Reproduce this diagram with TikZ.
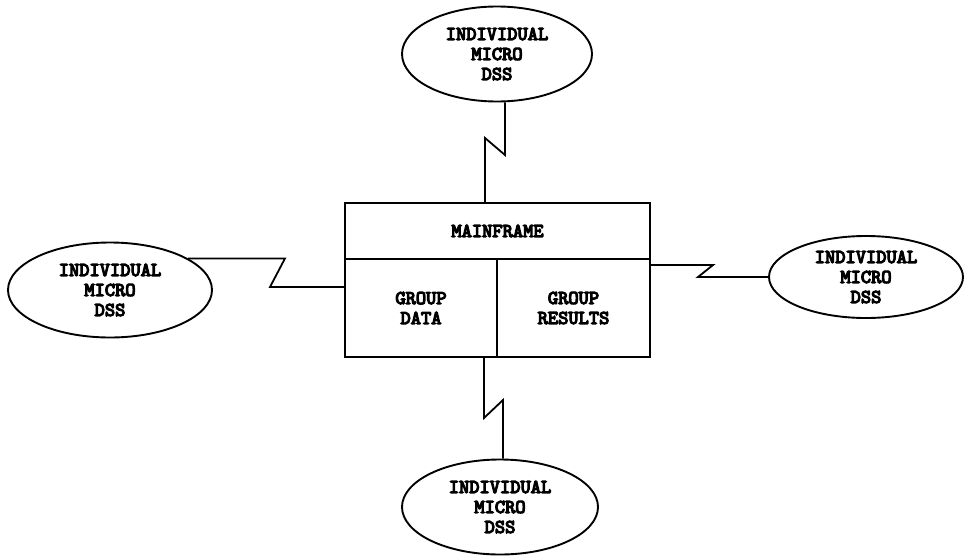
\documentclass[tikz,border=0pt]{standalone}
\usepackage{fontspec}
\newfontfamily\dfont[Extension=.otf, FakeBold=6]{lmmono10-regular}
\usetikzlibrary{shapes.geometric}
\begin{document}
\begin{tikzpicture}[x=1pt,y=1pt,
  txt/.style={font=\dfont\fontsize{19.5}{20}\selectfont, align=center, text=black},
  micro/.style={txt, ellipse, draw, line width=1.9pt, inner sep=0pt},
  part/.style={txt, rectangle, draw, line width=1.8pt, inner sep=0pt},
  conn/.style={line width=1.8pt, line join=miter}]
\useasboundingbox (0,0) rectangle (964,-557);
% mainframe box
\node[part, minimum width=305pt, minimum height=56pt] (mf) at (497.5,-231) {MAINFRAME};
\node[part, minimum width=152pt, minimum height=98pt] (gd) at (421,-308) {GROUP\\DATA};
\node[part, minimum width=153pt, minimum height=98pt] (gr) at (573.5,-308) {GROUP\\RESULTS};
% micro DSS ellipses
\node[micro, minimum width=190pt, minimum height=95pt] (T) at (497,-54) {INDIVIDUAL\\MICRO\\DSS};
\node[micro, minimum width=204pt, minimum height=95pt] (L) at (110,-290) {INDIVIDUAL\\MICRO\\DSS};
\node[micro, minimum width=194pt, minimum height=82pt] (R) at (866,-277) {INDIVIDUAL\\MICRO\\DSS};
\node[micro, minimum width=196pt, minimum height=95pt] (B) at (500,-507) {INDIVIDUAL\\MICRO\\DSS};
% zigzag bend points
\coordinate (t1) at (505,-155); \coordinate (t2) at (485,-138);
\coordinate (l1) at (285,-272); \coordinate (l2) at (270,-287);
\coordinate (r1) at (713,-265); \coordinate (r2) at (698,-277);
\coordinate (b1) at (484,-418); \coordinate (b2) at (503,-400);
% connectors
\draw[conn] (t1 |- T.south) -- (t1) -- (t2) -- (t2 |- mf.north);
\draw[conn] (L.22) -- (l1 |- L.22) -- (l2) -- (l2 -| gd.west);
\draw[conn] (r1 -| gr.east) -- (r1) -- (r2) -- (R.west);
\draw[conn] (b1 |- gd.south) -- (b1) -- (b2) -- (b2 |- B.north);
\end{tikzpicture}
\end{document}
